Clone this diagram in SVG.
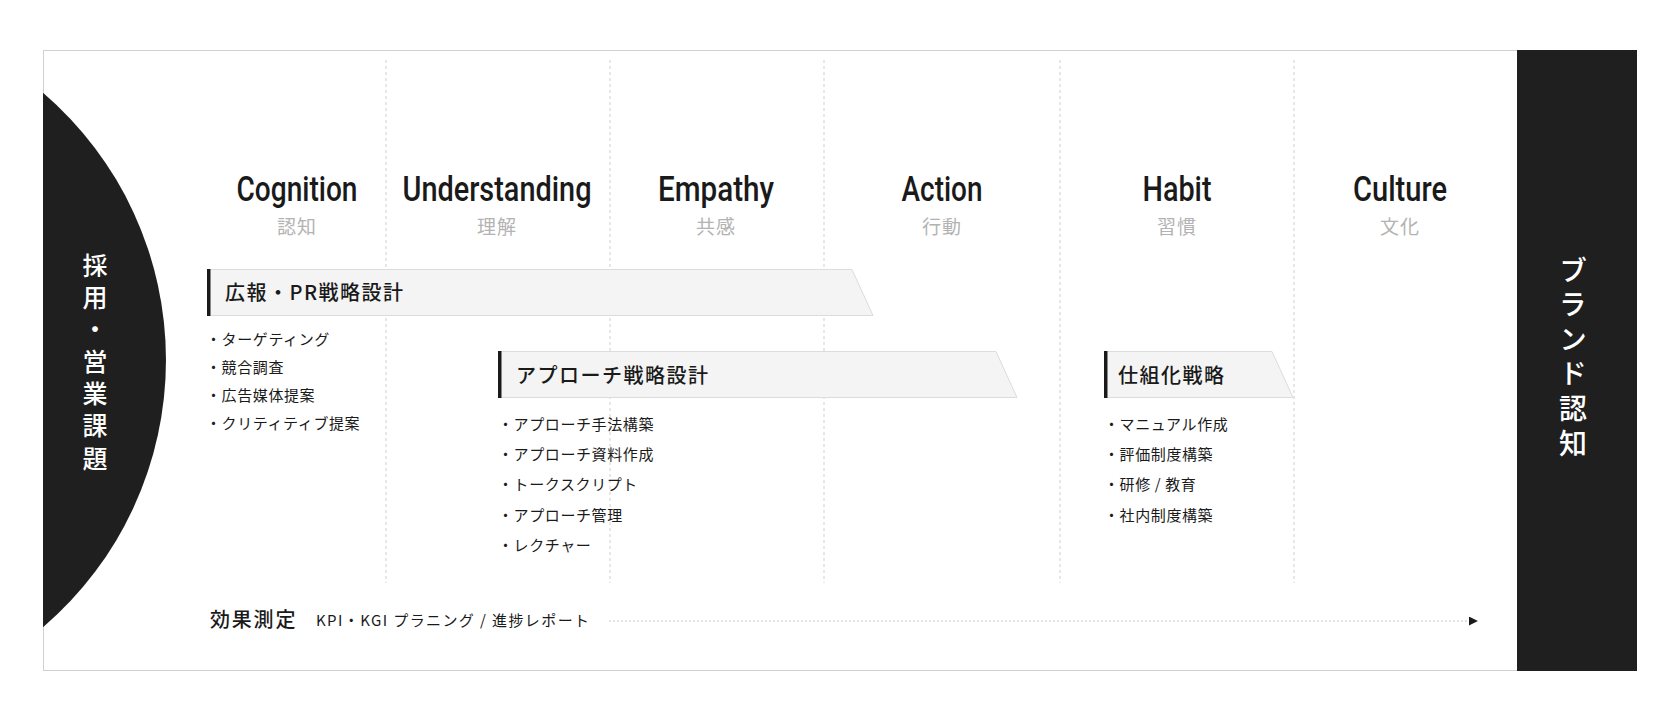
<svg xmlns="http://www.w3.org/2000/svg" width="1680" height="720" viewBox="0 0 1680 720">
<defs>
<style>
.jp{font-family:"Noto Sans CJK JP","Noto Sans",sans-serif;}
.ttl{font-family:Roboto,"Liberation Sans",sans-serif;font-size:35px;font-weight:500;fill:#1a1a1a;text-anchor:middle;}
.sub{font-family:"Noto Sans CJK JP",sans-serif;font-size:19px;fill:#b3b3b3;text-anchor:middle;letter-spacing:1px;}
.grid{stroke:#cfcfcf;stroke-width:1;stroke-dasharray:3 3;fill:none;}
.ban{fill:#f4f4f4;stroke:#dcdcdc;stroke-width:1;}
.bar{fill:#1a1a1a;}
.btxt{font-family:"Noto Sans CJK JP",sans-serif;font-size:20px;font-weight:500;fill:#1a1a1a;letter-spacing:1.5px;}
.li{font-family:"Noto Sans CJK JP",sans-serif;font-size:15px;fill:#1a1a1a;letter-spacing:0.6px;}
.vt{font-family:"Noto Sans CJK JP",sans-serif;fill:#ffffff;font-weight:500;writing-mode:vertical-rl;text-orientation:upright;}
</style>
<marker id="arr" viewBox="0 0 10 10" refX="9" refY="5" markerWidth="9" markerHeight="9" markerUnits="userSpaceOnUse" orient="auto">
<path d="M0,0 L10,5 L0,10 Z" fill="#1a1a1a"/>
</marker>
</defs>
<rect width="1680" height="720" fill="#ffffff"/>
<rect x="43.5" y="50.5" width="1474" height="620" fill="#ffffff" stroke="#d0d0d0" stroke-width="1"/>

<g id="grid">
<line class="grid" x1="386" y1="60" x2="386" y2="583"/>
<line class="grid" x1="610" y1="60" x2="610" y2="583"/>
<line class="grid" x1="824" y1="60" x2="824" y2="583"/>
<line class="grid" x1="1060" y1="60" x2="1060" y2="583"/>
<line class="grid" x1="1294" y1="60" x2="1294" y2="583"/>
</g>

<g id="issue">
<path d="M43,92.7 A352,352 0 0,1 43,627.3 Z" fill="#1f1f1f"/>
<text class="vt" x="95" y="252.5" font-size="25px" letter-spacing="7.2px">採用・営業課題</text>
</g>

<g id="brand">
<rect x="1517" y="50" width="120" height="621" fill="#1f1f1f"/>
<text class="vt" x="1573" y="256" font-size="28px" letter-spacing="6.6px">ブランド認知</text>
</g>

<g id="stage-cognition">
<text class="ttl" x="297" y="201" textLength="121" lengthAdjust="spacingAndGlyphs">Cognition</text>
<text class="sub" x="297" y="234">認知</text>
</g>
<g id="stage-understanding">
<text class="ttl" x="497" y="201" textLength="189" lengthAdjust="spacingAndGlyphs">Understanding</text>
<text class="sub" x="497" y="234">理解</text>
</g>
<g id="stage-empathy">
<text class="ttl" x="716" y="201" textLength="116" lengthAdjust="spacingAndGlyphs">Empathy</text>
<text class="sub" x="716" y="234">共感</text>
</g>
<g id="stage-action">
<text class="ttl" x="942" y="201" textLength="81" lengthAdjust="spacingAndGlyphs">Action</text>
<text class="sub" x="942" y="234">行動</text>
</g>
<g id="stage-habit">
<text class="ttl" x="1177" y="201" textLength="69" lengthAdjust="spacingAndGlyphs">Habit</text>
<text class="sub" x="1177" y="234">習慣</text>
</g>
<g id="stage-culture">
<text class="ttl" x="1400" y="201" textLength="94" lengthAdjust="spacingAndGlyphs">Culture</text>
<text class="sub" x="1400" y="234">文化</text>
</g>

<g id="pr-strategy">
<path class="ban" d="M208,269.5 L852,269.5 L873,315.5 L208,315.5 Z"/>
<rect class="bar" x="207" y="269" width="3.5" height="47"/>
<text class="btxt" x="225" y="300">広報・PR戦略設計</text>
<text class="li" x="206" y="344.5">・ターゲティング</text>
<text class="li" x="206" y="372.5">・競合調査</text>
<text class="li" x="206" y="400.5">・広告媒体提案</text>
<text class="li" x="206" y="428.5">・クリティティブ提案</text>
</g>

<g id="approach-strategy">
<path class="ban" d="M499,351.5 L996,351.5 L1017,397.5 L499,397.5 Z"/>
<rect class="bar" x="498" y="351" width="3.5" height="47"/>
<text class="btxt" x="516" y="383">アプローチ戦略設計</text>
<text class="li" x="498" y="430">・アプローチ手法構築</text>
<text class="li" x="498" y="460">・アプローチ資料作成</text>
<text class="li" x="498" y="490">・トークスクリプト</text>
<text class="li" x="498" y="521">・アプローチ管理</text>
<text class="li" x="498" y="551">・レクチャー</text>
</g>

<g id="system-strategy">
<path class="ban" d="M1105,351.5 L1272,351.5 L1293,397.5 L1105,397.5 Z"/>
<rect class="bar" x="1104" y="351" width="3.5" height="47"/>
<text class="btxt" x="1118" y="383">仕組化戦略</text>
<text class="li" x="1104" y="430">・マニュアル作成</text>
<text class="li" x="1104" y="460">・評価制度構築</text>
<text class="li" x="1104" y="490">・研修 / 教育</text>
<text class="li" x="1104" y="521">・社内制度構築</text>
</g>

<g id="measurement">
<text class="jp" x="210" y="627" font-size="20px" font-weight="500" fill="#1a1a1a" letter-spacing="1.8px">効果測定</text>
<text class="jp" x="316" y="626" font-size="15px" fill="#1a1a1a" letter-spacing="1.4px">KPI・KGI プラニング / 進捗レポート</text>
</g>

<g id="connectors">
<line x1="609" y1="621" x2="1477" y2="621" stroke="#c8c8c8" stroke-width="1" stroke-dasharray="2 2" marker-end="url(#arr)"/>
</g>
</svg>
